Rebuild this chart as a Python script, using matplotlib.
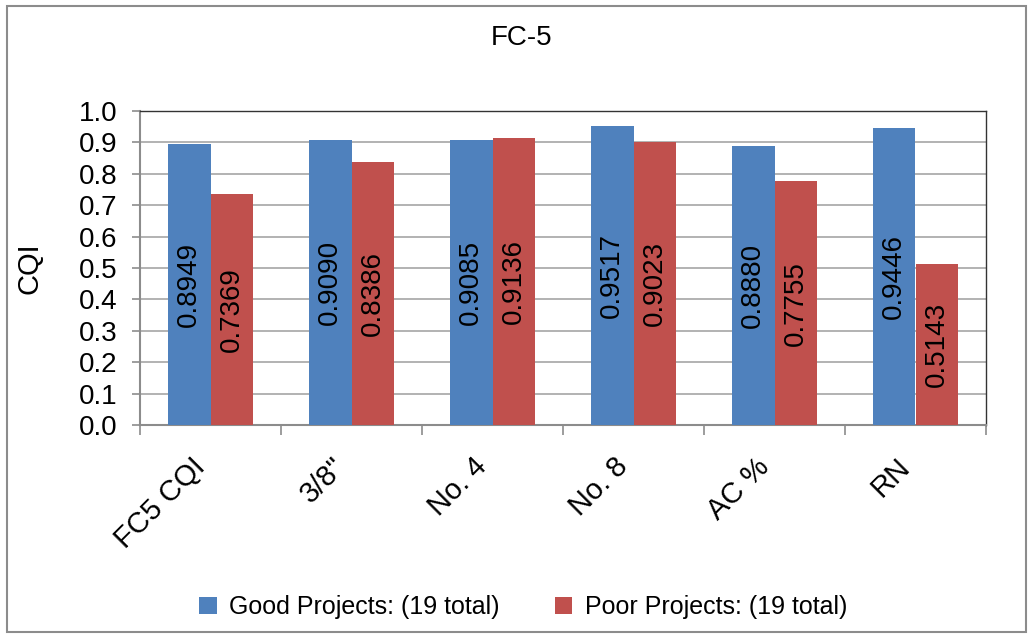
import numpy as np
import matplotlib.pyplot as plt
from matplotlib.patches import Rectangle
from matplotlib.transforms import ScaledTranslation

plt.rcParams['font.family'] = ['Liberation Sans', 'DejaVu Sans']

# 数据
categories = ['FC5 CQI', '3/8"', 'No. 4', 'No. 8', 'AC %', 'RN']
good_values = [0.8949, 0.9090, 0.9085, 0.9517, 0.8880, 0.9446]
poor_values = [0.7369, 0.8386, 0.9136, 0.9023, 0.7755, 0.5143]
good_label = 'Good Projects: (19 total)'
poor_label = 'Poor Projects: (19 total)'

GOOD_COLOR = '#4f81bd'
POOR_COLOR = '#c0504d'


def main():
    fig = plt.figure(figsize=(10.29, 6.34), dpi=100)
    ax = fig.add_axes([140 / 1029, 1 - 425 / 634, 846 / 1029, 314 / 634])

    # 外框
    fig.patches.append(Rectangle((7 / 1029, 2 / 634), 1019 / 1029, 626 / 634,
                                 transform=fig.transFigure, fill=False,
                                 edgecolor='#8c8c8c', linewidth=1.5))

    x = np.arange(len(categories))
    width = 0.3
    bars_good = ax.bar(x - width / 2, good_values, width, color=GOOD_COLOR,
                       label=good_label, zorder=3)
    bars_poor = ax.bar(x + width / 2, poor_values, width, color=POOR_COLOR,
                       label=poor_label, zorder=3)

    for bars, vals in ((bars_good, good_values), (bars_poor, poor_values)):
        for rect, v in zip(bars, vals):
            ax.text(rect.get_x() + rect.get_width() / 2, v / 2, f'{v:.4f}',
                    rotation=90, ha='center', va='center', fontsize=20,
                    color='black', zorder=4)

    ax.set_xlim(-0.5, len(categories) - 0.5)
    ax.set_ylim(0, 1.0)
    ax.set_yticks(np.arange(0, 1.01, 0.1))
    ax.set_yticklabels([f'{t:.1f}' for t in np.arange(0, 1.01, 0.1)], fontsize=20)
    ax.yaxis.grid(True, color='#a6a6a6', linewidth=1.2, zorder=0)
    ax.set_axisbelow(True)

    ax.set_xticks(x)
    ax.set_xticklabels(categories, rotation=45, ha='right', va='center',
                       rotation_mode='anchor', fontsize=21)
    ax.tick_params(axis='x', length=0, pad=27)
    shift = ScaledTranslation(-10 / 100, 0, fig.dpi_scale_trans)
    for lbl in ax.get_xticklabels():
        lbl.set_transform(lbl.get_transform() + shift)
    ax.set_xticks(np.arange(-0.5, len(categories), 1.0), minor=True)
    ax.tick_params(axis='x', which='minor', length=7, color='#8c8c8c', width=1.2)
    ax.tick_params(axis='y', length=6, color='#8c8c8c', width=1.2, pad=10)

    for side in ('left', 'bottom'):
        ax.spines[side].set_color('#8c8c8c')
        ax.spines[side].set_linewidth(1.5)
    for side in ('top', 'right'):
        ax.spines[side].set_color('#333333')
        ax.spines[side].set_linewidth(1.0)

    ax.set_ylabel('CQI', fontsize=21)
    ax.yaxis.set_label_coords((44 - 140) / 846, 0.5)
    fig.text(522 / 1029, 1 - 38 / 634, 'FC-5', ha='center', va='center', fontsize=20)

    fig.legend(handles=[bars_good, bars_poor], labels=[good_label, poor_label],
               loc='center', bbox_to_anchor=(523 / 1029, 1 - 607 / 634), ncol=2,
               frameon=False, fontsize=18, handlelength=0.7, handleheight=0.7,
               handletextpad=0.5, columnspacing=2.2)

    fig.savefig('out.png', dpi=100)
    plt.close(fig)


if __name__ == "__main__":
    main()
